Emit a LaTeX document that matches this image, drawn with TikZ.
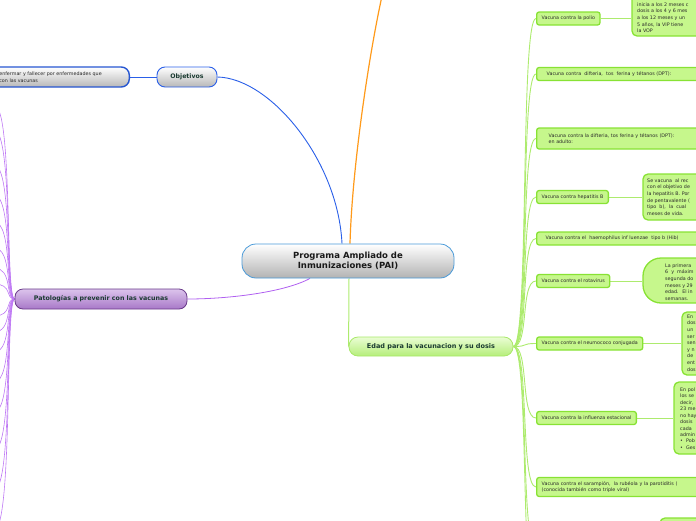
\documentclass[tikz,border=0pt]{standalone}
\usepackage{fontspec}
\setmainfont{DejaVu Sans}
\usetikzlibrary{backgrounds}
\definecolor{cborder}{HTML}{4A9AD8}
\definecolor{bluec}{HTML}{2A5FE8}
\definecolor{orangec}{HTML}{FF9A1A}
\definecolor{purplec}{HTML}{B060F0}
\definecolor{purplefan}{HTML}{BE78F4}
\definecolor{ptop}{HTML}{DCC4EC}
\definecolor{pbot}{HTML}{A878C8}
\definecolor{pborder}{HTML}{6A3A8A}
\definecolor{gtop}{HTML}{EAFDD4}
\definecolor{gbot}{HTML}{B5EE7A}
\definecolor{gborder}{HTML}{A8E868}
\definecolor{glinec}{HTML}{ADEB6E}
\definecolor{itemfill}{HTML}{C6F78C}
\definecolor{itemborder}{HTML}{88E234}
\definecolor{darktext}{HTML}{1A3A30}
\definecolor{smalltext}{HTML}{2A2A2A}
\tikzset{
  small/.style={font=\fontsize{4.8}{6.6}\selectfont, text=smalltext},
  central/.style={rounded corners=14pt, minimum width=212pt, minimum height=34pt,
    top color=white, bottom color=black!30, draw=cborder, line width=0.8pt,
    font=\bfseries\fontsize{8.5}{10.5}\selectfont, align=center, text=black!90},
  objbox/.style={rounded corners=8pt, minimum width=60pt, minimum height=20pt,
    top color=white, bottom color=black!28, draw=bluec, line width=0.9pt,
    font=\bfseries\fontsize{6.2}{7.5}\selectfont, text=darktext},
  leftbox/.style={small, rounded corners=8pt, minimum height=20pt, text width=118pt,
    inner xsep=12pt, align=left, top color=white, bottom color=black!28,
    draw=bluec!90!black, line width=1.4pt, text=black!85},
  patbox/.style={rounded corners=8pt, minimum width=172pt, minimum height=20pt,
    top color=ptop, bottom color=pbot, draw=pborder, line width=0.8pt,
    font=\bfseries\fontsize{6.3}{7.5}\selectfont, text=darktext},
  agebox/.style={rounded corners=9pt, minimum width=164pt, minimum height=19pt,
    top color=gtop, bottom color=gbot, draw=gborder, line width=0.8pt,
    font=\bfseries\fontsize{6.5}{7.5}\selectfont, text=darktext},
  item/.style={small, draw=itemborder, line width=1.3pt, fill=itemfill,
    rounded corners=2.5pt, inner xsep=5pt, inner ysep=0pt, minimum height=13pt,
    anchor=west, align=left},
  dbox/.style={draw=itemborder, line width=1.3pt, fill=itemfill, rounded corners=5pt},
  dtext/.style={small, inner sep=0pt, anchor=north west, align=left},
  gline/.style={draw=glinec, line width=0.9pt},
  pline/.style={draw=purplefan, line width=0.6pt},
}
\begin{document}
\begin{tikzpicture}[x=1pt,y=-1pt]
\useasboundingbox (0,0) rectangle (696,520);
\clip (0,0) rectangle (696,520);

% main nodes
\node[central] (c) at (348,261) {Programa Ampliado de\\Inmunizaciones (PAI)};
\node[objbox] (obj) at (187,77) {Objetivos};
\node[leftbox, anchor=east] (goal) at (130,77) {enfermar y fallecer por enfermedades que\\con las vacunas};
\node[patbox] (pat) at (101,299) {Patologías a prevenir con las vacunas};
\node[agebox] (age) at (431,346.5) {Edad para la vacunacion y su dosis};
\coordinate (orangeend) at (382,-4);

% vaccine items
\node[item] (polio) at (536,18.5) {Vacuna contra la polio};
\node[item, inner xsep=10pt, text width=200pt] (dpt) at (536,74) {Vacuna contra \ difteria, \ tos \ ferina y tétanos (DPT):};
\node[item, inner xsep=12pt, text width=200pt, minimum height=21pt] (dpta) at (536,138.5) {Vacuna contra la difteria, tos ferina y tétanos (DPT):\\en adulto:};
\node[item] (hepb) at (536,197) {Vacuna contra hepatitis B};
\node[item, inner xsep=9pt, text width=200pt] (hib) at (536,238.5) {Vacuna contra el \ haemophilus inf luenzae \ tipo b (Hib)};
\node[item] (rota) at (536,281) {Vacuna contra el rotavirus};
\node[item] (neumo) at (536,343.5) {Vacuna contra el neumococo conjugada};
\node[item] (influ) at (536,418) {Vacuna contra la influenza estacional};
\node[item, text width=200pt, minimum height=19pt] (srp) at (536,487) {Vacuna contra el sarampión, \ la rubéola y la parotiditis (\\(conocida también como triple viral)};
\coordinate (more1) at (536,548);
\coordinate (more2) at (536,600);

% detail boxes
\node[dbox, minimum width=88pt, minimum height=41pt] (poliod) at (676,15.5) {};
\node[dtext] (poliot) at (637,2.5) {inicia a los 2 meses c\\dosis a los 4 y 6 mes\\a los 12 meses y un\\5 años, la VIP tiene\\la VOP};
\node[dbox, minimum width=77pt, minimum height=46pt] (hepbd) at (681.5,197) {};
\node[dtext] (hepbt) at (647,178.5) {Se vacuna \ al rec\\con el objetivo de\\la hepatitis B. Por\\de pentavalente (\\tipo \ b), \ la \ cual\\meses de vida.};
\node[dbox, rounded corners=18pt, minimum width=77pt, minimum height=45pt] (rotad) at (681.5,280.5) {};
\node[dtext] (rotat) at (665,263.5) {La primera\\6 \ y \ máxim\\segunda do\\meses y 29\\edad. \ El in\\semanas.};
\node[dbox, minimum width=38pt, minimum height=63pt] (neumod) at (701,343.5) {};
\node[dtext] (neumot) at (687,314.5) {En\\dos\\un\\ser\\sen\\y n\\de\\ent\\dos};
\node[dbox, minimum width=46pt, minimum height=72pt] (influd) at (697,418) {};
\node[dtext, font=\fontsize{4.8}{6.45}\selectfont] (influt) at (680,387.5) {En pol\\los se\\decir,\\23 me\\no hay\\dosis\\cada\\admin\\\textbullet\ \ Pob\\\textbullet\ \ Ges};
\node[dbox, minimum width=60pt, minimum height=42pt] (nextd) at (690,539) {};

\begin{pgfonlayer}{background}
  % blue, orange, purple, green main connectors
  \draw[bluec, line width=0.9pt] ([xshift=-6pt]c.north) .. controls (338,160) and (270,78) .. (obj.east);
  \draw[bluec, line width=0.9pt] (obj.west) -- (goal.east);
  \draw[orangec, line width=1.2pt] ([xshift=2pt]c.north) .. controls (352,170) and (368,60) .. (orangeend);
  \draw[purplec, line width=0.8pt] ([xshift=-38pt]c.south) .. controls (285,292) and (230,299) .. (pat.east);
  \draw[glinec, line width=1pt] ([xshift=1pt]c.south) -- (age.west);
  % purple fan
  \foreach \yy in {105,130,165,195,222,248,268,284,316,332,352,382,412,450,490,530} {
    \draw[pline] (pat.west) .. controls (5,299) and (13,\yy) .. (-6,\yy);
  }
  % green fan
  \foreach \n in {polio,dpt,dpta,hepb,hib,rota,neumo,influ,srp,more1,more2} {
    \draw[gline] (age.east) .. controls +(16,0) and +(-16,0) .. (\n.west);
  }
  % item to detail
  \draw[gline] (polio.east) -- (polio.east -| poliod.west);
  \draw[gline] (hepb.east) -- (hepb.east -| hepbd.west);
  \draw[gline] (rota.east) -- (rota.east -| rotad.west);
  \draw[gline] (neumo.east) -- (neumo.east -| neumod.west);
  \draw[gline] (influ.east) -- (influ.east -| influd.west);
\end{pgfonlayer}
\end{tikzpicture}
\end{document}
